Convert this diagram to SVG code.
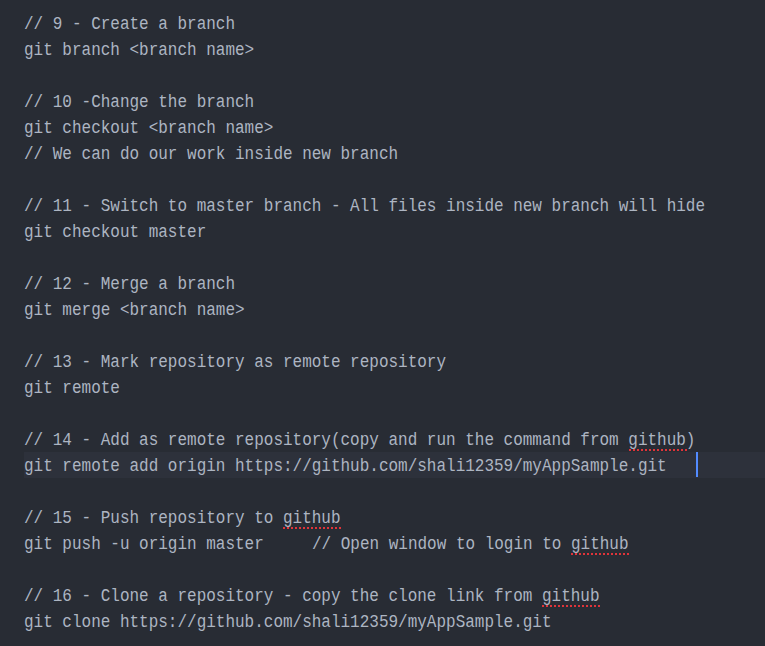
<svg xmlns="http://www.w3.org/2000/svg" width="765" height="646" viewBox="0 0 765 646">
<style>
.t{font-family:"Liberation Mono","DejaVu Sans Mono",monospace;font-size:17.5px;fill:#adb5c2}
.sq{stroke:#e0343a;stroke-width:2;stroke-dasharray:2 2;fill:none}
</style>
<rect x="0" y="0" width="765" height="646" fill="#282c34"/>
<rect x="24" y="452" width="741" height="26" fill="#2d313b"/>
<rect x="696" y="452" width="2" height="25" fill="#528bff"/>
<g id="code" transform="scale(0.9143,1)">
<text class="t" x="26.25" y="29">// 9 - Create a branch</text>
<text class="t" x="26.25" y="55">git branch &lt;branch name&gt;</text>
<text class="t" x="26.25" y="107">// 10 -Change the branch</text>
<text class="t" x="26.25" y="133">git checkout &lt;branch name&gt;</text>
<text class="t" x="26.25" y="159">// We can do our work inside new branch</text>
<text class="t" x="26.25" y="211">// 11 - Switch to master branch - All files inside new branch will hide</text>
<text class="t" x="26.25" y="237">git checkout master</text>
<text class="t" x="26.25" y="289">// 12 - Merge a branch</text>
<text class="t" x="26.25" y="315">git merge &lt;branch name&gt;</text>
<text class="t" x="26.25" y="367">// 13 - Mark repository as remote repository</text>
<text class="t" x="26.25" y="393">git remote</text>
<text class="t" x="26.25" y="445">// 14 - Add as remote repository(copy and run the command from github)</text>
<text class="t" x="26.25" y="471">git remote add origin https://github.com/shali12359/myAppSample.git</text>
<text class="t" x="26.25" y="523">// 15 - Push repository to github</text>
<text class="t" x="26.25" y="549">git push -u origin master</text>
<text class="t" x="341.25" y="549">// Open window to login to github</text>
<text class="t" x="26.25" y="601">// 16 - Clone a repository - copy the clone link from github</text>
<text class="t" x="26.25" y="627">git clone https://github.com/shali12359/myAppSample.git</text>
</g>
<g id="squiggles">
<line class="sq" x1="629" y1="450" x2="687" y2="450"/>
<line class="sq" x1="283" y1="528" x2="341" y2="528"/>
<line class="sq" x1="571" y1="554" x2="629" y2="554"/>
<line class="sq" x1="542" y1="606" x2="600" y2="606"/>
</g>
</svg>
